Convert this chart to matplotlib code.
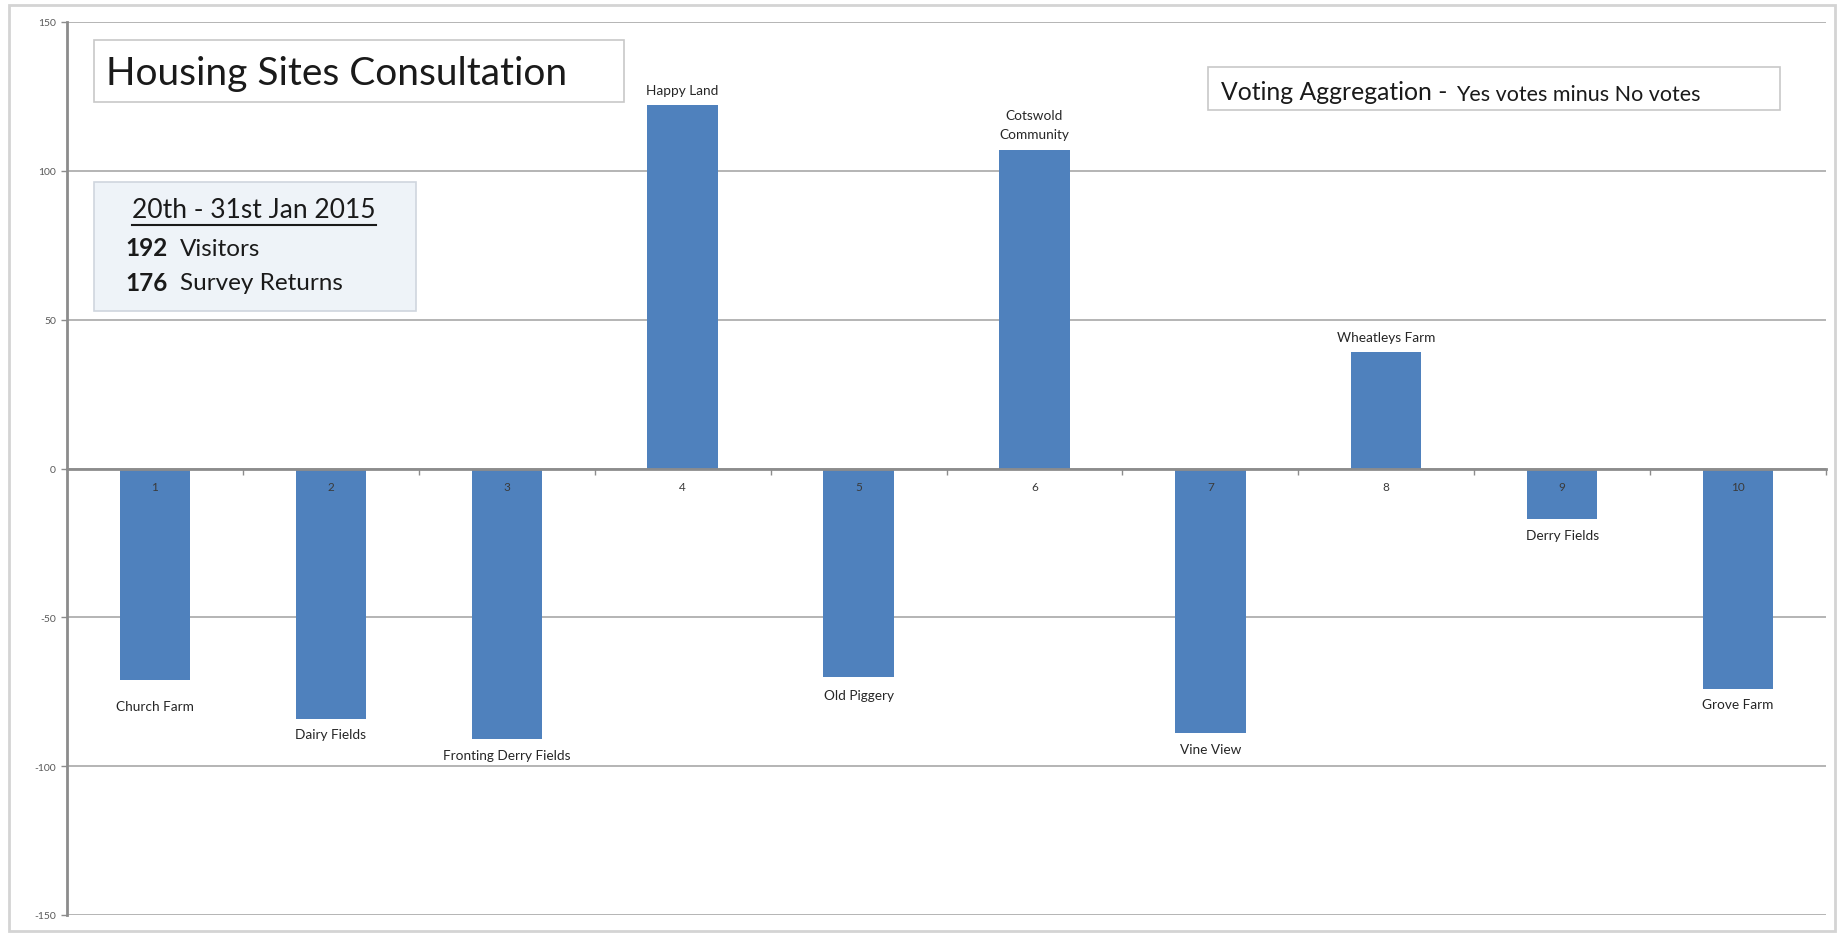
import matplotlib.pyplot as plt
from matplotlib.patches import Rectangle
from matplotlib.lines import Line2D

plt.rcParams['font.family'] = ['Lato', 'DejaVu Sans']

site_numbers = [1, 2, 3, 4, 5, 6, 7, 8, 9, 10]
site_names = ['Church Farm', 'Dairy Fields', 'Fronting Derry Fields', 'Happy Land',
              'Old Piggery', 'Cotswold\nCommunity', 'Vine View', 'Wheatleys Farm',
              'Derry Fields', 'Grove Farm']
net_votes = [-71, -84, -91, 122, -70, 107, -89, 39, -17, -74]
y_ticks = [-150, -100, -50, 0, 50, 100, 150]

visitors = 192
survey_returns = 176
period = '20th - 31st Jan 2015'

# extra gap (px) for hand-moved labels
label_nudge = [10, 0, 0, 0, 2, 0, 0, 0, 0, 0]

W, H = 1839, 937
fig = plt.figure(figsize=(W / 100, H / 100), dpi=100)
fig.patch.set_facecolor('white')


def fx(px):
    return px / W


def fy(py):
    return 1 - py / H


ax = fig.add_axes([fx(67), fy(916), fx(1826) - fx(67), fy(23) - fy(916)])
x = list(range(len(net_votes)))
ax.bar(x, net_votes, width=0.4, color='#4f81bd', zorder=3)

ax.set_xlim(-0.5, len(net_votes) - 0.5)
ax.set_ylim(-150, 150)
ax.set_yticks(y_ticks)
ax.set_yticklabels([str(v) for v in y_ticks])
ax.grid(axis='y', color='#b4b4b4', linewidth=1.4, zorder=0)

for s in ['top', 'right']:
    ax.spines[s].set_visible(False)
ax.spines['left'].set_color('#8c8c8c')
ax.spines['left'].set_linewidth(2)
ax.spines['bottom'].set_position(('data', 0))
ax.spines['bottom'].set_color('#8c8c8c')
ax.spines['bottom'].set_linewidth(2)
ax.spines['bottom'].set_zorder(4)

ax.set_xticks(x)
ax.set_xticklabels([])
ax.set_xticks([i + 0.5 for i in x], minor=True)
ax.tick_params(axis='x', which='major', length=0)
ax.tick_params(axis='x', which='minor', length=4, width=1, color='#8c8c8c',
               direction='out')
ax.tick_params(axis='y', length=4, width=1, color='#8c8c8c', labelsize=7.5,
               labelcolor='#595959', pad=4)

# category numbers sit just under the zero line, over the bars
for i, n in enumerate(site_numbers):
    ax.annotate(str(n), (i, 0), xytext=(0, -13), textcoords='offset points',
                ha='center', va='center', fontsize=8.5, color='#3a3a3a',
                zorder=6)

for i, (name, v) in enumerate(zip(site_names, net_votes)):
    if v >= 0:
        ax.annotate(name, (i, v), xytext=(0, 7), textcoords='offset points',
                    ha='center', va='bottom', fontsize=9.8, color='#262626',
                    linespacing=1.7)
    else:
        ax.annotate(name, (i, v), xytext=(0, -7 - label_nudge[i] * 0.72),
                    textcoords='offset points', ha='center', va='top',
                    fontsize=9.8, color='#262626')

# outer chart border
fig.patches.append(Rectangle((fx(9), fy(932)), fx(1835) - fx(9), fy(6) - fy(932),
                             transform=fig.transFigure, fill=False,
                             edgecolor='#d4d4d4', linewidth=2))

# title box
fig.patches.append(Rectangle((fx(94), fy(103)), fx(624) - fx(94), fy(41) - fy(103),
                             transform=fig.transFigure, facecolor='white',
                             edgecolor='#c8c8c8', linewidth=1.2, zorder=6))
fig.text(fx(106), fy(74), 'Housing Sites Consultation', fontsize=28,
         color='#1a1a1a', va='center', ha='left', zorder=7)

# info box
fig.patches.append(Rectangle((fx(94), fy(312)), fx(416) - fx(94), fy(183) - fy(312),
                             transform=fig.transFigure, facecolor='#eef3f8',
                             edgecolor='#cfd6de', linewidth=1.2, zorder=6))
date_txt = fig.text(fx(254), fy(211), period, fontsize=19, color='#1a1a1a',
                    ha='center', va='center', zorder=7)
fig.text(fx(125), fy(249), str(visitors), fontsize=17.5, fontweight='bold',
         color='#1a1a1a', ha='left', va='center', zorder=7)
fig.text(fx(180), fy(249), 'Visitors', fontsize=17.5, color='#1a1a1a',
         ha='left', va='center', zorder=7)
fig.text(fx(125), fy(284), str(survey_returns), fontsize=17.5, fontweight='bold',
         color='#1a1a1a', ha='left', va='center', zorder=7)
fig.text(fx(180), fy(284), 'Survey Returns', fontsize=17.5, color='#1a1a1a',
         ha='left', va='center', zorder=7)

# voting box
fig.patches.append(Rectangle((fx(1208), fy(111)), fx(1780) - fx(1208), fy(68) - fy(111),
                             transform=fig.transFigure, facecolor='white',
                             edgecolor='#c8c8c8', linewidth=1.2, zorder=6))
fig.text(fx(1221), fy(93), 'Voting Aggregation -', fontsize=17.8,
         color='#1a1a1a', ha='left', va='center', zorder=7)
fig.text(fx(1456), fy(95), 'Yes votes minus No votes', fontsize=15.5,
         color='#1a1a1a', ha='left', va='center', zorder=7)

# underline the date
fig.canvas.draw()
bb = date_txt.get_window_extent()
uy = bb.y0 - 2
fig.lines.append(Line2D([bb.x0 / W, bb.x1 / W], [uy / H, uy / H],
                        transform=fig.transFigure, color='#1a1a1a',
                        linewidth=1.5, zorder=7))

fig.savefig('out.png', dpi=100)
